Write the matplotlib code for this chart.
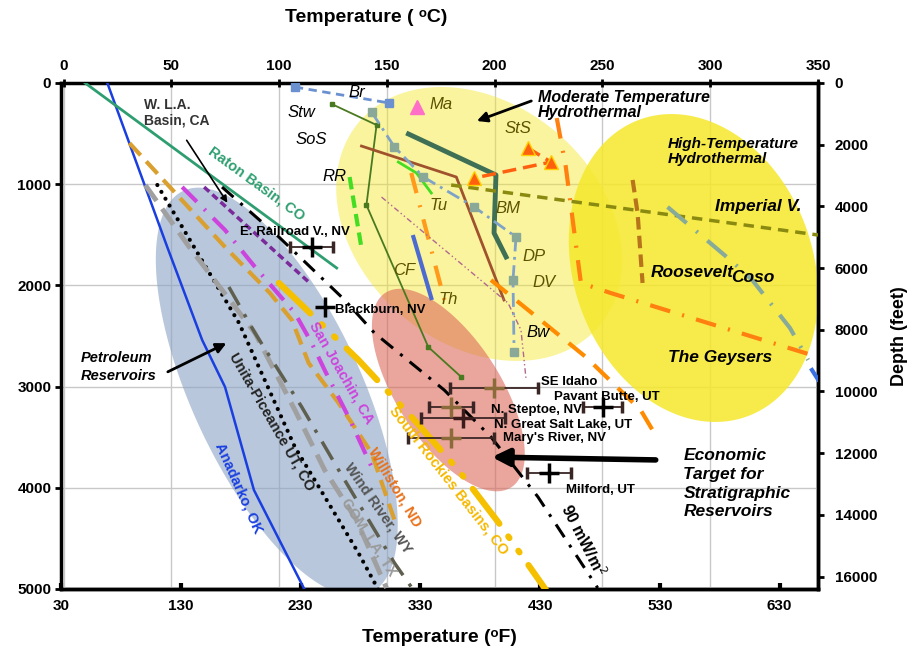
import numpy as np
import matplotlib
matplotlib.use("Agg")
import matplotlib.pyplot as plt

# all temperatures in deg C, depths in m
anadarko_t = [20.3, 48.1, 64.3, 74.9, 88.3, 111.9]
anadarko_d = [0, 1621, 2540, 3004, 4022, 5010]
raton_t = [10.0, 126.7]
raton_d = [0, 1828]
wla_t = [65.2, 114.2]
wla_d = [1028, 1976]
hf90_t = [73.5, 99.9, 130.4, 144.2, 176.6, 198.3, 220.1, 247.8]
hf90_d = [1028, 1522, 2144, 2470, 3034, 3498, 4091, 4990]
unita_t = [43.5, 81.4, 107.3, 136.8, 146.1]
unita_d = [1008, 2372, 3597, 4644, 5010]
gom_t = [37.9, 58.3, 88.8, 107.3, 121.1, 135.9, 149.8]
gom_d = [1008, 1621, 2471, 3231, 3824, 4318, 4990]
windriver_t = [76.7, 88.8, 110.5, 127.6, 153.5, 162.3]
windriver_d = [2016, 2471, 3202, 3824, 4743, 5010]
williston_t = [30.5, 74.9, 95.7, 105.9, 113.7, 127.6, 142.9, 153.5]
williston_d = [593, 1621, 2075, 2342, 2767, 3162, 3656, 4318]
sanjoaquin_t = [55.0, 74.9, 88.8, 107.3, 115.1, 121.1, 132.2, 144.2]
sanjoaquin_d = [1028, 1453, 1818, 2273, 2569, 2836, 3300, 3854]
srockies_t = [99.9, 136.8, 162.7, 183.1, 201.6, 223.8]
srockies_d = [1976, 2737, 3330, 3824, 4338, 5010]

stw_t = [124.4, 145.2, 140.5, 169.2, 184.5]
stw_d = [208, 415, 1206, 2609, 2905]
sos_t = [138.2, 182.2, 204.3]
sos_d = [623, 929, 2144]
bm_t = [160.0, 200.6, 199.7, 205.3]
bm_d = [504, 909, 1482, 1719]
rr_t = [132.7, 138.2]
rr_d = [929, 1630]
tu_t = [155.3, 163.7, 170.6]
tu_d = [781, 889, 1087]
th_t = [161.3, 177.5]
th_d = [889, 2213]
cf_t = [162.3, 170.6]
cf_d = [1522, 2125]
ma_t = [164.1]
ma_d = [237]
sts_t = [215.4, 226.1, 190.5]
sts_d = [642, 781, 939]
imperial_t = [179.8, 350.0]
imperial_d = [1008, 1502]
roosevelt_t = [264.0, 266.3, 268.6]
roosevelt_d = [958, 1285, 1976]
coso_t = [280.2, 309.3, 319.5, 337.0, 345.4]
coso_d = [1225, 1749, 1947, 2421, 2737]
geysers_t = [228.8, 233.0, 240.0, 253.8, 348.6]
geysers_d = [346, 830, 1976, 2075, 2698]
br_t = [107.3, 151.2]
br_d = [40, 198]
dp_t = [142.9, 153.5, 166.9, 190.5, 209.9, 208.5, 209.0]
dp_d = [287, 632, 929, 1225, 1522, 1947, 2658]
bw_t = [147.5, 206.2, 212.2, 214.5]
bw_d = [1127, 2174, 2441, 2915]
dv_t = [198.3, 220.1, 242.3, 267.7, 276.0]
dv_d = [1947, 2322, 2708, 3231, 3528]
edge_t = [347.2, 350.0]
edge_d = [2836, 2930]

# well / site estimates with temperature uncertainty
site_names = ["E. Railroad V., NV", "Blackburn, NV", "SE Idaho", "Pavant Butte, UT",
              "N. Steptoe, NV", "N. Great Salt Lake, UT", "Mary's River, NV", "Milford, UT"]
site_t = [115.1, 121.1, 199.7, 250.1, 179.8, 185.4, 179.8, 225.2]
site_d = [1621, 2213, 3014, 3202, 3202, 3310, 3508, 3854]
site_err = [10.0, 0.0, 20.3, 9.2, 10.2, 19.6, 19.9, 10.0]

# shaded zones: centre T, centre depth, semi axes (deg C equivalent), tilt
zone_names = ["moderate", "high", "petroleum", "economic"]
zone_t = [192.8, 292.2, 98.9, 178.5]
zone_d = [1393, 1828, 3053, 3034]
zone_a = [73.0, 73.0, 102.6, 53.6]
zone_b = [55.5, 55.5, 39.3, 24.0]
zone_ang = [40, 70, 65, 57]

K = 2.163 / 0.1012  # metres per deg C on screen

plt.rcParams['font.family'] = ['Liberation Sans', 'DejaVu Sans']

fig = plt.figure(figsize=(9.07, 6.53), dpi=100)
ax = fig.add_axes([61 / 907, 1 - 589 / 653, 757 / 907, 506 / 653])


def zone(i, color, alpha, z):
    s = np.linspace(0, 2 * np.pi, 300)
    u = zone_a[i] * np.cos(s)
    v = zone_b[i] * np.sin(s)
    th = np.radians(zone_ang[i])
    x = zone_t[i] + u * np.cos(th) - v * np.sin(th)
    y = zone_d[i] / K + u * np.sin(th) + v * np.cos(th)
    ax.fill(x, y * K, color=color, alpha=alpha, lw=0, zorder=z)


zone(0, '#f5e82a', 0.45, 1)
zone(1, '#f5e82a', 0.85, 1.1)
zone(2, '#8aa3c4', 0.6, 1.2)
zone(3, '#dc6a5a', 0.6, 1.3)

# petroleum basins
ax.plot(anadarko_t, anadarko_d, color='#1a3fe0', lw=1.8, zorder=3)
ax.plot(raton_t, raton_d, color='#2e9e70', lw=2, zorder=3)
ax.plot(wla_t, wla_d, color='#7a2a9a', lw=2.5, dashes=(2, 1.2), zorder=3)
ax.plot(unita_t, unita_d, color='k', lw=3, dashes=(0.01, 1.9), dash_capstyle='round', zorder=3)
ax.plot(gom_t, gom_d, color='#a0a0a0', lw=3.5, dashes=(4, 2), zorder=3)
ax.plot(windriver_t, windriver_d, color='#5f5f50', lw=2.5, dashes=(6, 3, 1, 3), zorder=3)
ax.plot(williston_t, williston_d, color='#d9a030', lw=3, dashes=(4, 2), zorder=3)
ax.plot(sanjoaquin_t, sanjoaquin_d, color='#cc44dd', lw=3, dashes=(5, 2.5, 0.5, 2.5), zorder=3)
ax.plot(srockies_t, srockies_d, color='#f5c000', lw=4.5,
        dashes=(7, 2.5, 0.3, 2.5, 0.3, 2.5), dash_capstyle='round', zorder=3)
ax.plot(hf90_t, hf90_d, color='k', lw=2.2, dashes=(5, 3, 1, 3), zorder=3)

# geothermal fields
ax.plot(stw_t, stw_d, color='#4a7a20', lw=1.3, marker='s', ms=3, zorder=4)
ax.plot(sos_t, sos_d, color='#a0522d', lw=2, zorder=4)
ax.plot(bm_t, bm_d, color='#3f6f55', lw=3.5, zorder=4)
ax.plot(rr_t, rr_d, color='#44dd22', lw=3, dashes=(3, 1.5), zorder=4)
ax.plot(tu_t, tu_d, color='#44dd22', lw=2, zorder=4)
ax.plot(th_t, th_d, color='#ff9a1a', lw=3, dashes=(5, 3, 0.5, 3), zorder=4)
ax.plot(cf_t, cf_d, color='#4d6ad0', lw=3, zorder=4)
ax.plot(ma_t, ma_d, ls='none', marker='^', color='#ff6ec7', ms=10, zorder=5)
ax.plot(sts_t, sts_d, color='#ff6010', lw=2.5, dashes=(4, 2), marker='^', ms=10,
        mec='#ffd000', mew=1, zorder=5)
ax.plot(imperial_t, imperial_d, color='#8a8a10', lw=2.5, dashes=(3, 2), zorder=4)
ax.plot(roosevelt_t, roosevelt_d, color='#b8741a', lw=3, dashes=(3, 1.5), zorder=4)
ax.plot(coso_t, coso_d, color='#88aa99', lw=3, dashes=(6, 3, 0.5, 3), zorder=4)
ax.plot(geysers_t, geysers_d, color='#ff7f10', lw=3, dashes=(5, 3, 0.5, 3), zorder=4)
ax.plot(br_t, br_d, color='#6a90d0', lw=2, dashes=(3, 2), marker='s', ms=6, zorder=4)
ax.plot(dp_t, dp_d, color='#7fa3c8', lw=2, dashes=(5, 2, 1, 2), marker='s', ms=6,
        mfc='#8aa898', mec='#8aa898', zorder=4)
ax.plot(bw_t, bw_d, color='#b06890', lw=1, dashes=(4, 2, 1, 2, 1, 2), zorder=4)
ax.plot(dv_t, dv_d, color='#ff8c00', lw=3, dashes=(5, 3), zorder=4)
ax.plot(edge_t, edge_d, color='#3a70e0', lw=3, zorder=4)

# sites
cross_cols = ['k', 'k', '#8b6b3a', 'k', '#8b6b3a', '#3a1a1a', '#8b6b3a', 'k']
for i in range(len(site_names)):
    ax.errorbar(site_t[i], site_d[i], xerr=site_err[i] if site_err[i] > 0 else None,
                fmt='+', color=cross_cols[i], ms=14, mew=2.5, ecolor='#3a2525',
                elinewidth=1.3, capsize=4, zorder=6)

fs = 9.5
ax.text(81.8, 1472, "E. Railroad V., NV", fontsize=fs, fontweight='bold', va='center', zorder=7)
ax.text(125.8, 2243, "Blackburn, NV", fontsize=fs, fontweight='bold', va='center', zorder=7)
ax.text(221.5, 2955, "SE Idaho", fontsize=fs, fontweight='bold', va='center', zorder=7)
ax.text(227.5, 3103, "Pavant Butte, UT", fontsize=fs, fontweight='bold', va='center', zorder=7)
ax.text(198.3, 3231, "N. Steptoe, NV", fontsize=fs, fontweight='bold', va='center', zorder=7)
ax.text(199.7, 3380, "N. Great Salt Lake, UT", fontsize=fs, fontweight='bold', va='center', zorder=7)
ax.text(203.9, 3508, "Mary's River, NV", fontsize=fs, fontweight='bold', va='center', zorder=7)
ax.text(233.0, 4022, "Milford, UT", fontsize=fs, fontweight='bold', va='center', zorder=7)

# curve labels
it = dict(style='italic', fontsize=12, zorder=7, ha='center', va='center')
olive = '#5c5200'
ax.text(135.9, 89, "Br", **it)
ax.text(110.5, 296, "Stw", **it)
ax.text(114.7, 563, "SoS", **it)
ax.text(125.8, 919, "RR", **it)
ax.text(175.2, 208, "Ma", color=olive, **it)
ax.text(173.8, 1206, "Tu", color=olive, **it)
ax.text(158.1, 1848, "CF", color=olive, **it)
ax.text(178.5, 2144, "Th", color=olive, **it)
ax.text(206.2, 1245, "BM", color=olive, **it)
ax.text(218.2, 1719, "DP", color=olive, **it)
ax.text(222.8, 1976, "DV", color=olive, **it)
ax.text(220.1, 2470, "Bw", **it)
ax.text(210.8, 445, "StS", color=olive, **it)
big = dict(style='italic', fontweight='bold', fontsize=12.5, zorder=7, ha='center', va='center')
ax.text(322.2, 1225, "Imperial V.", **big)
ax.text(291.7, 1868, "Roosevelt", **big)
ax.text(319.9, 1917, "Coso", **big)
ax.text(304.7, 2708, "The Geysers", **big)

ax.text(220.1, 69, "Moderate Temperature\nHydrothermal", style='italic', fontweight='bold',
        fontsize=11.5, va='top', linespacing=1.0, zorder=7)
ax.text(280.2, 534, "High-Temperature\nHydrothermal", style='italic', fontweight='bold',
        fontsize=11, va='top', linespacing=1.05, zorder=7)
ax.text(7.9, 2806, "Petroleum\nReservoirs", style='italic', fontweight='bold',
        fontsize=10.5, va='center', linespacing=1.3, zorder=7)
ax.text(287.6, 3610, "Economic\nTarget for\nStratigraphic\nReservoirs", style='italic',
        fontweight='bold', fontsize=12.5, va='top', linespacing=1.3, zorder=7)
ax.text(37.4, 148, "W. L.A.\nBasin, CA", color='#333333', fontweight='bold',
        fontsize=10, va='top', linespacing=1.1, zorder=7)

rot = dict(fontweight='bold', fontsize=10.5, ha='center', va='center',
           rotation_mode='anchor', zorder=7)
ax.text(89.5, 990, "Raton Basin, CO", color='#2e9e70', rotation=-36, **rot)
ax.text(96.6, 3350, "Unita-Piceance UT, CO", color='#222222', rotation=-60, **rot)
ax.text(81.4, 4002, "Anadarko, OK", color='#1a3fe0', rotation=-66, **rot)
ax.text(129.0, 2866, "San Joachin, CA", color='#cc44dd', rotation=-60, **rot)
ax.text(153.5, 3992, "Williston, ND", color='#e8701a', rotation=-59, **rot)
ax.text(146.1, 4200, "Wind River, WY", color='#555555', rotation=-55, **rot)
ax.text(141.5, 4486, "GOM, LA, TX", color='#9a9a9a', rotation=-57, **rot)
ax.text(178.5, 3923, "South Rockies Basins, CO", color='#f5b800', rotation=-52, **rot)
ax.text(240.9, 4516, "90 mW/m$^2$", color='k', fontweight='bold', fontsize=11.5,
        rotation=-63, ha='center', va='center', rotation_mode='anchor', zorder=7)

# arrows
ax.annotate('', xy=(76.7, 1206), xytext=(56.4, 543),
            arrowprops=dict(arrowstyle='-|>', color='k', lw=1.2), zorder=7)
ax.annotate('', xy=(76.7, 2559), xytext=(47.2, 2866),
            arrowprops=dict(arrowstyle='-|>', color='k', lw=2, mutation_scale=15), zorder=7)
ax.annotate('', xy=(190.5, 385), xytext=(218.2, 168),
            arrowprops=dict(arrowstyle='-|>', color='k', lw=2, mutation_scale=15), zorder=7)
ax.annotate('', xy=(197.4, 3696), xytext=(276.0, 3725),
            arrowprops=dict(arrowstyle='-|>', color='k', lw=4, mutation_scale=25), zorder=7)

# axes
ax.set_xlim(-1.2, 350)
ax.set_ylim(5000, 0)
ax.xaxis.tick_top()
ax.set_xticks(np.arange(0, 351, 50))
ax.set_yticks(np.arange(0, 5001, 1000))
ax.grid(True, color='#c8c8c8', lw=1, zorder=0)
ax.set_axisbelow(True)
ax.tick_params(axis='x', direction='inout', length=6, width=2, labelsize=11, pad=4)
ax.tick_params(axis='y', direction='out', length=4, width=2, labelsize=11, pad=3)
for lab in ax.get_xticklabels() + ax.get_yticklabels():
    lab.set_fontweight('bold')
for sp in ax.spines.values():
    sp.set_linewidth(2.5)

c2f = lambda c: np.asarray(c) * 9 / 5 + 32
f2c = lambda f: (np.asarray(f) - 32) * 5 / 9
secx = ax.secondary_xaxis('bottom', functions=(c2f, f2c))
secx.set_xticks(np.arange(30, 631, 100))
secx.tick_params(direction='in', length=4, width=3, labelsize=11, pad=7)
for lab in secx.get_xticklabels():
    lab.set_fontweight('bold')
secx.spines['bottom'].set_linewidth(2.5)
secx.set_xlabel("Temperature (\u1d52F)", fontsize=14, fontweight='bold', labelpad=12)

m2ft = lambda m: np.asarray(m) * 3.28084
ft2m = lambda f: np.asarray(f) / 3.28084
secy = ax.secondary_yaxis('right', functions=(m2ft, ft2m))
secy.set_yticks(np.arange(0, 16001, 2000))
secy.tick_params(direction='out', length=4, width=2, labelsize=11, pad=8)
for lab in secy.get_yticklabels():
    lab.set_fontweight('bold')
secy.spines['right'].set_linewidth(2.5)
secy.set_ylabel("Depth (feet)", fontsize=13, fontweight='bold', labelpad=10)

fig.text(366 / 907, 1 - 18 / 653, "Temperature ( \u1d52C)", fontsize=14, fontweight='bold',
         ha='center', va='center')

fig.savefig("out.png", dpi=100)
